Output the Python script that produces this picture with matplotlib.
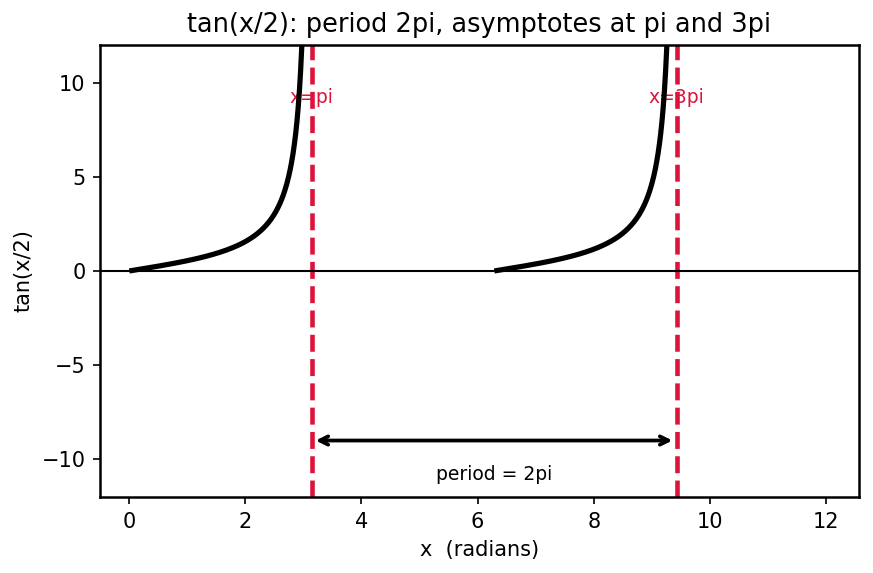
import matplotlib
matplotlib.use("Agg")
import matplotlib.pyplot as plt
import numpy as np

# branches of tan(x/2) that are drawn (start, end of x range)
branch_starts = [0.05, 2 * np.pi + 0.05]
branch_ends = [np.pi - 0.02, 3 * np.pi - 0.02]
asymptotes = [np.pi, 3 * np.pi]
asym_labels = ["x=pi", "x=3pi"]
period_label = "period = 2pi"

fig, ax = plt.subplots(figsize=(8.73 / 1.5, 5.73 / 1.5), dpi=150)

for a, b in zip(branch_starts, branch_ends):
    x = np.linspace(a, b, 600)
    y = np.tan(x / 2)
    ax.plot(x, y, color="black", lw=2.5, zorder=3)

for xa, lab in zip(asymptotes, asym_labels):
    ax.axvline(xa, color="crimson", ls="--", lw=2.2, zorder=2)
    ax.text(xa, 9.2, lab, color="crimson", fontsize=9, ha="center", va="center", zorder=1)

ax.axhline(0, color="black", lw=1)

ax.annotate("", xy=(asymptotes[0], -9), xytext=(asymptotes[1], -9),
            arrowprops=dict(arrowstyle="<->", color="black", lw=1.8))
ax.text((asymptotes[0] + asymptotes[1]) / 2, -10.8, period_label,
        fontsize=9, ha="center", va="center")

ax.set_xlim(-0.5, 4 * np.pi)
ax.set_ylim(-12, 12)
ax.set_xlabel("x  (radians)")
ax.set_ylabel("tan(x/2)")
ax.set_title("tan(x/2): period 2pi, asymptotes at pi and 3pi", fontsize=12.3)
for s in ax.spines.values():
    s.set_linewidth(1.2)

fig.subplots_adjust(left=0.1145, right=0.984, top=0.9215, bottom=0.1326)
fig.savefig("out.png", dpi=150)
